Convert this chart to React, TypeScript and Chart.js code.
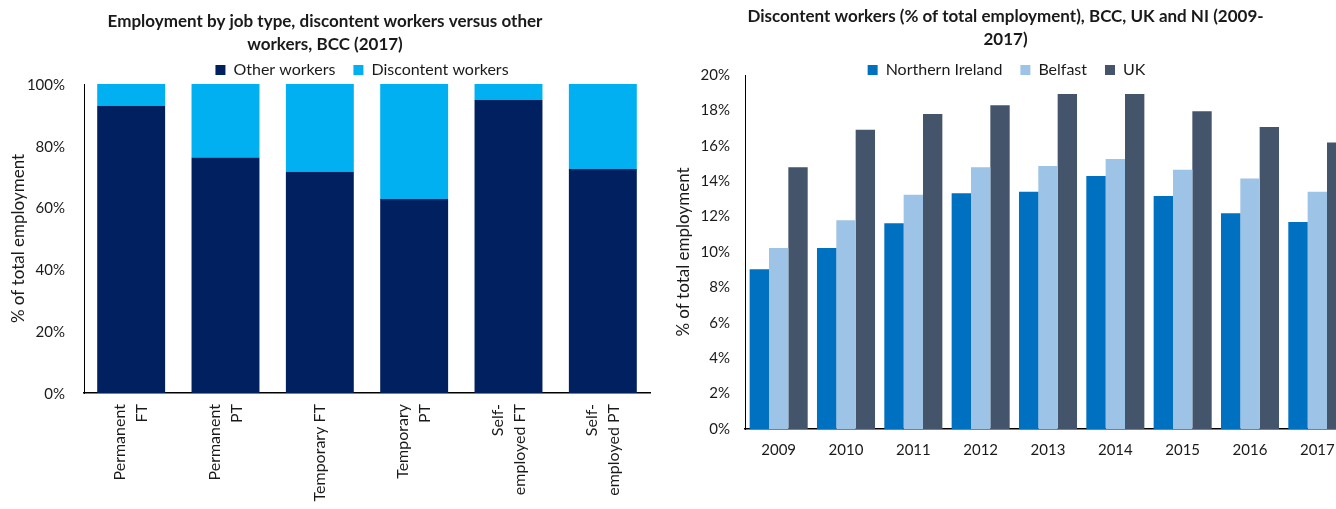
import React, { useEffect, useRef } from "react";
import { Chart, registerables } from "chart.js";

Chart.register(...registerables);

const FONT = "Lato, 'Noto Sans', sans-serif";
const TEXT = "#1a1a1a";

// ---- Left chart data ----
const leftTitle = ["Employment by job type, discontent workers versus other", "workers, BCC (2017)"];
const jobTypes = [
  ["Permanent", "FT"],
  ["Permanent", "PT"],
  ["Temporary FT"],
  ["Temporary", "PT"],
  ["Self-", "employed FT"],
  ["Self-", "employed PT"],
];
const otherWorkers = [93.0, 76.2, 71.6, 62.8, 94.8, 72.5];
const discontentWorkers = [7.0, 23.8, 28.4, 37.2, 5.2, 27.5];
const leftTicks = [0, 20, 40, 60, 80, 100];

// ---- Right chart data ----
const rightTitle = ["Discontent workers (% of total employment), BCC, UK and NI (2009-", "2017)"];
const years = ["2009", "2010", "2011", "2012", "2013", "2014", "2015", "2016", "2017"];
const northernIreland = [9.03, 10.23, 11.63, 13.32, 13.4, 14.3, 13.17, 12.19, 11.7];
const belfast = [10.23, 11.8, 13.24, 14.79, 14.86, 15.26, 14.64, 14.15, 13.4];
const uk = [14.79, 16.9, 17.8, 18.29, 18.93, 18.93, 17.95, 17.06, 16.18];
const rightTicks = [0, 2, 4, 6, 8, 10, 12, 14, 16, 18, 20];

const nudgeLegend = {
  id: "nudgeLegend",
  afterLayout(chart: any, _a: any, opts: any) {
    const lg = chart.legend;
    if (!lg) return;
    const dx = (opts && opts.dx) || 0;
    const dy = (opts && opts.dy) || 0;
    lg.left += dx;
    lg.right += dx;
    lg.top += dy;
    lg.bottom += dy;
  },
};

export default function App() {
  const leftRef = useRef<HTMLCanvasElement | null>(null);
  const rightRef = useRef<HTMLCanvasElement | null>(null);

  useEffect(() => {
    const font15 = { family: FONT, size: 15 };
    const legendFont = { family: FONT, size: 16 };
    const axisTitleFont = { family: FONT, size: 17 };
    const titleFont = { family: FONT, size: 17, weight: "bold" as const, lineHeight: "23px" };

    const left = new Chart(leftRef.current as HTMLCanvasElement, {
      type: "bar",
      data: {
        labels: jobTypes.map((l) => l.join(" ")),
        datasets: [
          { label: "Other workers", data: otherWorkers, backgroundColor: "#002060" },
          { label: "Discontent workers", data: discontentWorkers, backgroundColor: "#00B0F0" },
        ],
      },
      options: {
        responsive: false,
        animation: false,
        layout: { padding: { left: 0, right: 36, top: 0, bottom: 0 } },
        datasets: { bar: { categoryPercentage: 0.72, barPercentage: 1 } },
        plugins: {
          title: {
            display: true,
            text: leftTitle,
            color: TEXT,
            font: titleFont,
            padding: { top: 10.5, bottom: -16.5 },
          },
          legend: {
            labels: { boxWidth: 10, boxHeight: 10, padding: 18, color: TEXT, font: legendFont },
          },
          tooltip: { enabled: false },
          nudgeLegend: { dx: 37, dy: 4 },
        } as any,
        scales: {
          x: {
            stacked: true,
            grid: { display: false, drawTicks: false },
            border: { color: "#000", width: 1.5 },
            ticks: {
              autoSkip: false,
              minRotation: 90,
              maxRotation: 90,
              padding: 11,
              labelOffset: -11,
              color: TEXT,
              font: (c: any) => ({
                family: FONT,
                size: 16,
                lineHeight: jobTypes[c.index] && jobTypes[c.index].length === 1 ? "11px" : "22px",
              }),
              callback: (_v: any, i: number) => {
                const l = jobTypes[i];
                return l.length === 1 ? ["", l[0]] : l;
              },
            },
            afterFit: (s: any) => {
              s.height = 116;
            },
          },
          y: {
            stacked: true,
            min: 0,
            max: 100,
            grid: { display: false, drawTicks: false },
            border: { color: "#000", width: 1 },
            afterBuildTicks: (s: any) => {
              s.ticks = leftTicks.map((v) => ({ value: v }));
            },
            ticks: {
              padding: 19,
              labelOffset: 1,
              color: TEXT,
              font: font15,
              callback: (v: any) => v + "%",
            },
            title: {
              display: true,
              text: "% of total employment",
              color: TEXT,
              font: axisTitleFont,
              padding: { top: 8, bottom: 0 },
            },
            afterFit: (s: any) => {
              s.width = 84;
            },
          },
        },
      },
      plugins: [nudgeLegend],
    });

    const right = new Chart(rightRef.current as HTMLCanvasElement, {
      type: "bar",
      data: {
        labels: years,
        datasets: [
          { label: "Northern Ireland", data: northernIreland, backgroundColor: "#0070C0" },
          { label: "Belfast", data: belfast, backgroundColor: "#9DC3E6" },
          { label: "UK", data: uk, backgroundColor: "#44546A" },
        ],
      },
      options: {
        responsive: false,
        animation: false,
        layout: { padding: { left: 0, right: 73, top: 0, bottom: 0 } },
        datasets: { bar: { categoryPercentage: 0.862, barPercentage: 1 } },
        plugins: {
          title: {
            display: true,
            text: rightTitle,
            color: TEXT,
            font: titleFont,
            padding: { top: 5.5, bottom: -20.5 },
          },
          legend: {
            labels: { boxWidth: 10, boxHeight: 10, padding: 18, color: TEXT, font: legendFont },
          },
          tooltip: { enabled: false },
          nudgeLegend: { dx: 1, dy: 13 },
        } as any,
        scales: {
          x: {
            grid: { display: false, drawTicks: false },
            border: { color: "#000", width: 1.5 },
            ticks: { padding: 12, color: TEXT, font: font15, maxRotation: 0, autoSkip: false },
            afterFit: (s: any) => {
              s.height = 80;
            },
          },
          y: {
            min: 0,
            max: 20,
            grid: { display: false, drawTicks: false },
            border: { color: "#000", width: 1 },
            afterBuildTicks: (s: any) => {
              s.ticks = rightTicks.map((v) => ({ value: v }));
            },
            ticks: {
              padding: 15,
              color: TEXT,
              font: font15,
              callback: (v: any) => v + "%",
            },
            title: {
              display: true,
              text: "% of total employment",
              color: TEXT,
              font: axisTitleFont,
              padding: { top: 13, bottom: 0 },
            },
            afterFit: (s: any) => {
              s.width = 85;
            },
          },
        },
      },
      plugins: [nudgeLegend],
    });

    return () => {
      left.destroy();
      right.destroy();
    };
  }, []);

  return (
    <div
      style={{
        position: "absolute",
        left: 0,
        top: 0,
        width: 1336,
        height: 509,
        overflow: "hidden",
        background: "#fff",
      }}
    >
      <canvas
        ref={leftRef}
        width={686}
        height={509}
        style={{ position: "absolute", left: 0, top: 0, width: 686, height: 509 }}
      />
      <canvas
        ref={rightRef}
        width={764}
        height={509}
        style={{ position: "absolute", left: 660, top: 0, width: 764, height: 509 }}
      />
    </div>
  );
}
